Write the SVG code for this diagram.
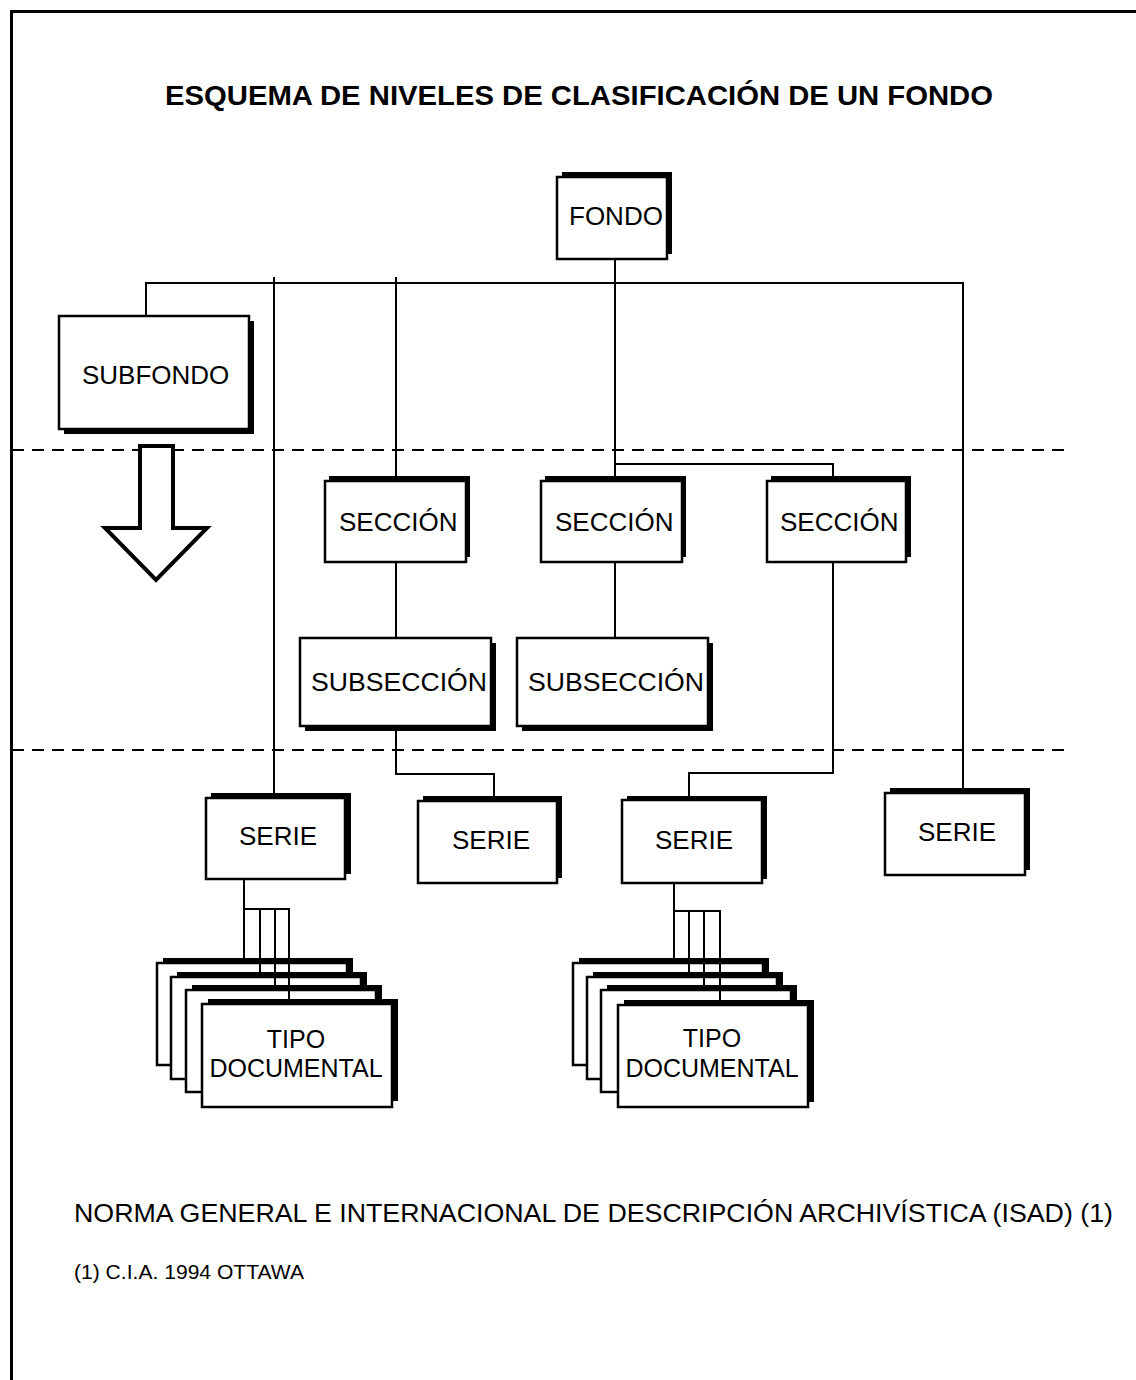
<svg xmlns="http://www.w3.org/2000/svg" width="1136" height="1380" viewBox="0 0 1136 1380">
  <style>
    text { font-family: "Liberation Sans", Arial, sans-serif; fill: #000; }
    .title { font-size: 28px; font-weight: bold; }
    .lbl { font-size: 26px; }
    .doc { font-size: 25px; text-anchor: middle; }
    .note { font-size: 26px; }
    .foot { font-size: 20px; }
    .box { fill: #fff; stroke: #000; stroke-width: 2.5; }
    .shadow { fill: #000; }
    .link { fill: none; stroke: #000; stroke-width: 2; }
    .divider { stroke: #000; stroke-width: 2; stroke-dasharray: 12 8; }
    .frame { stroke: #000; stroke-width: 3; fill: none; }
  </style>

  <rect width="1136" height="1380" fill="#fff"/>

  <!-- page frame (top and left edges) -->
  <path class="frame" d="M11.5 1380 V11.5 H1136"/>

  <text class="title" x="165" y="105" textLength="828" lengthAdjust="spacingAndGlyphs">ESQUEMA DE NIVELES DE CLASIFICACIÓN DE UN FONDO</text>

  <!-- level dividers -->
  <line class="divider" x1="12" y1="450" x2="1065" y2="450"/>
  <line class="divider" x1="12" y1="750" x2="1065" y2="750"/>

  <!-- nodes -->
  <g id="fondo">
    <rect class="shadow" x="562" y="172" width="110" height="82"/>
    <rect class="box" x="557" y="177" width="110" height="82"/>
    <text class="lbl" x="569" y="225">FONDO</text>
  </g>

  <g id="subfondo">
    <rect class="shadow" x="64" y="321" width="190" height="113"/>
    <rect class="box" x="59" y="316" width="190" height="113"/>
    <text class="lbl" x="82" y="384">SUBFONDO</text>
  </g>

  <g id="subfondo-arrow">
    <polygon points="140,446 173,446 173,528 207,528 156,580 105,528 140,528" fill="#fff" stroke="#000" stroke-width="4" stroke-linejoin="miter"/>
  </g>

  <g id="seccion-1">
    <rect class="shadow" x="329" y="476" width="141" height="81"/>
    <rect class="box" x="325" y="481" width="141" height="81"/>
    <text class="lbl" x="339" y="531">SECCIÓN</text>
  </g>

  <g id="seccion-2">
    <rect class="shadow" x="545" y="476" width="141" height="81"/>
    <rect class="box" x="541" y="481" width="141" height="81"/>
    <text class="lbl" x="555" y="531">SECCIÓN</text>
  </g>

  <g id="seccion-3">
    <rect class="shadow" x="771" y="476" width="140" height="81"/>
    <rect class="box" x="767" y="481" width="139" height="81"/>
    <text class="lbl" x="780" y="531">SECCIÓN</text>
  </g>

  <g id="subseccion-1">
    <rect class="shadow" x="305" y="643" width="191" height="88"/>
    <rect class="box" x="300" y="638" width="191" height="88"/>
    <text class="lbl" x="311" y="691" textLength="176" lengthAdjust="spacingAndGlyphs">SUBSECCIÓN</text>
  </g>

  <g id="subseccion-2">
    <rect class="shadow" x="522" y="643" width="191" height="88"/>
    <rect class="box" x="517" y="638" width="191" height="88"/>
    <text class="lbl" x="528" y="691" textLength="176" lengthAdjust="spacingAndGlyphs">SUBSECCIÓN</text>
  </g>

  <g id="serie-1">
    <rect class="shadow" x="211" y="793" width="140" height="81"/>
    <rect class="box" x="206" y="798" width="139" height="81"/>
    <text class="lbl" x="239" y="845">SERIE</text>
  </g>

  <g id="serie-2">
    <rect class="shadow" x="423" y="796" width="139" height="82"/>
    <rect class="box" x="418" y="801" width="139" height="82"/>
    <text class="lbl" x="452" y="849">SERIE</text>
  </g>

  <g id="serie-3">
    <rect class="shadow" x="627" y="796" width="140" height="83"/>
    <rect class="box" x="622" y="800" width="140" height="83"/>
    <text class="lbl" x="655" y="849">SERIE</text>
  </g>

  <g id="serie-4">
    <rect class="shadow" x="890" y="788" width="140" height="82"/>
    <rect class="box" x="885" y="793" width="140" height="82"/>
    <text class="lbl" x="918" y="841">SERIE</text>
  </g>

  <!-- stacked document cards under the first series -->
  <g id="tipo-documental-1">
    <rect class="shadow" x="163" y="958" width="190" height="102"/>
    <rect class="box" x="157" y="963" width="190" height="102"/>
    <rect class="shadow" x="177" y="972" width="190" height="102"/>
    <rect class="box" x="171" y="977" width="190" height="102"/>
    <rect class="shadow" x="192" y="985" width="190" height="102"/>
    <rect class="box" x="186" y="990" width="190" height="102"/>
    <rect class="shadow" x="208" y="999" width="190" height="102"/>
    <rect class="box" x="202" y="1004" width="190" height="103"/>
    <text class="doc" x="296" y="1048">TIPO</text>
    <text class="doc" x="296" y="1077">DOCUMENTAL</text>
  </g>

  <!-- stacked document cards under the third series -->
  <g id="tipo-documental-2">
    <rect class="shadow" x="579" y="958" width="190" height="102"/>
    <rect class="box" x="573" y="963" width="190" height="102"/>
    <rect class="shadow" x="593" y="972" width="190" height="102"/>
    <rect class="box" x="587" y="977" width="190" height="102"/>
    <rect class="shadow" x="607" y="985" width="190" height="102"/>
    <rect class="box" x="601" y="990" width="190" height="102"/>
    <rect class="shadow" x="624" y="1000" width="190" height="102"/>
    <rect class="box" x="618" y="1005" width="190" height="102"/>
    <text class="doc" x="712" y="1047" font-size="26">TIPO</text>
    <text class="doc" x="712" y="1077" font-size="26">DOCUMENTAL</text>
  </g>

  <!-- connectors -->
  <g id="connectors">
    <line class="link" x1="146" y1="283" x2="963" y2="283"/>
    <line class="link" x1="146" y1="282" x2="146" y2="316"/>
    <line class="link" x1="274" y1="277" x2="274" y2="793"/>
    <line class="link" x1="396" y1="277" x2="396" y2="476"/>
    <line class="link" x1="615" y1="259" x2="615" y2="476"/>
    <polyline class="link" points="615,464 833,464 833,476"/>
    <line class="link" x1="963" y1="282" x2="963" y2="788"/>
    <line class="link" x1="396" y1="562" x2="396" y2="638"/>
    <line class="link" x1="615" y1="562" x2="615" y2="638"/>
    <polyline class="link" points="396,726 396,774 494,774 494,796"/>
    <polyline class="link" points="833,562 833,773 689,773 689,796"/>
    <!-- series 1 to its document cards -->
    <line class="link" x1="244" y1="879" x2="244" y2="958"/>
    <line class="link" x1="243" y1="909" x2="290" y2="909"/>
    <line class="link" x1="260" y1="909" x2="260" y2="972"/>
    <line class="link" x1="275" y1="909" x2="275" y2="985"/>
    <line class="link" x1="289" y1="909" x2="289" y2="999"/>
    <!-- series 3 to its document cards -->
    <line class="link" x1="674" y1="883" x2="674" y2="958"/>
    <line class="link" x1="673" y1="911" x2="721" y2="911"/>
    <line class="link" x1="689" y1="911" x2="689" y2="972"/>
    <line class="link" x1="704" y1="911" x2="704" y2="985"/>
    <line class="link" x1="720" y1="911" x2="720" y2="1000"/>
  </g>

  <text class="note" x="74" y="1222" textLength="1039" lengthAdjust="spacingAndGlyphs">NORMA GENERAL E INTERNACIONAL DE DESCRIPCIÓN ARCHIVÍSTICA (ISAD) (1)</text>
  <text class="foot" x="74" y="1279" textLength="230" lengthAdjust="spacingAndGlyphs">(1) C.I.A. 1994 OTTAWA</text>
</svg>
